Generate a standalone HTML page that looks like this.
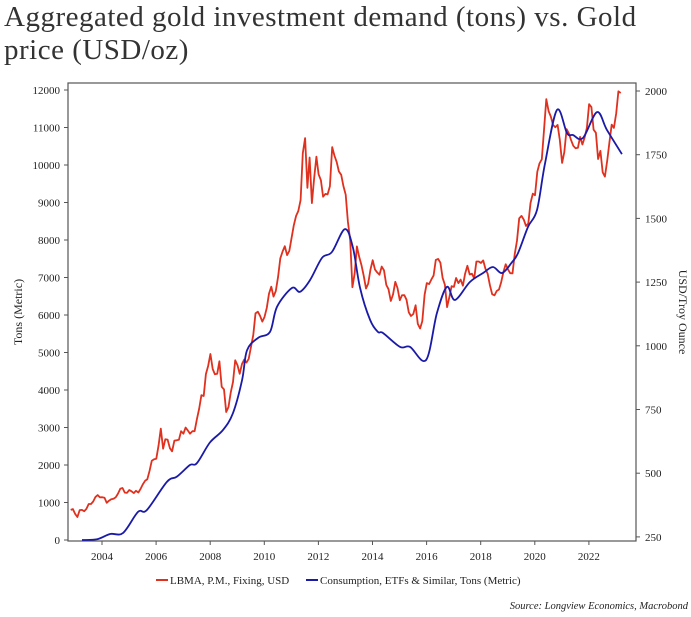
<!DOCTYPE html>
<html><head><meta charset="utf-8"><style>
html,body{margin:0;padding:0;background:#fff;}
body{width:691px;height:617px;overflow:hidden;position:relative;font-family:"Liberation Serif",serif;}
#title{position:absolute;left:4px;top:1px;font-size:29px;line-height:33px;letter-spacing:0.5px;color:#333;margin:0;font-weight:normal;white-space:nowrap;}
svg{position:absolute;left:0;top:0;}
</style></head><body>
<h1 id="title">Aggregated gold investment demand (tons) vs. Gold<br>price (USD/oz)</h1>
<svg id="chart" width="691" height="617"></svg>
<script>
const redStartYear = 2002.8;
const goldPrice = [
356,359,340,328,355,356,351,360,379,379,389,407,
414,405,406,404,384,392,398,400,406,420,439,442,
424,423,434,429,422,431,424,438,456,470,476,510,
549,555,557,610,675,596,633,632,598,586,628,629,
631,665,655,679,667,655,665,665,712,754,806,803,
889,922,968,909,888,890,939,839,829,740,760,816,
858,943,924,890,929,946,934,949,996,1043,1127,1134,
1118,1095,1113,1149,1205,1232,1193,1215,1271,1343,1370,1391,
1356,1372,1424,1473,1510,1529,1572,1756,1815,1620,1739,1560,
1656,1742,1673,1650,1585,1596,1594,1626,1780,1747,1721,1684,
1671,1627,1593,1487,1414,1230,1285,1390,1349,1316,1275,1225,
1244,1300,1336,1299,1288,1279,1311,1296,1239,1222,1176,1201,
1251,1227,1179,1198,1199,1181,1131,1117,1125,1159,1086,1068,
1097,1200,1246,1242,1260,1276,1337,1341,1326,1267,1239,1152,
1192,1234,1231,1266,1246,1260,1236,1283,1314,1280,1283,1265,
1331,1331,1325,1335,1303,1282,1238,1202,1198,1215,1221,1250,
1291,1320,1300,1285,1284,1359,1413,1500,1510,1495,1470,1480,
1560,1597,1591,1683,1716,1732,1846,1968,1921,1900,1866,1858,
1867,1808,1718,1760,1850,1834,1807,1785,1775,1777,1820,1790,
1817,1856,1948,1937,1848,1836,1733,1765,1681,1664,1726,1798,
1868,1855,1912,1999,1992];
const demandYears = [2003.26,2003.82,2004.30,2004.78,2005.33,2005.66,2006.40,2006.77,2007.25,2007.51,2007.99,2008.47,2008.84,2009.18,2009.36,2009.77,2010.21,2010.47,2011.02,2011.32,2011.69,2012.13,2012.50,2012.98,2013.28,2013.54,2013.91,2014.20,2014.39,2015.02,2015.39,2015.98,2016.38,2016.75,2017.05,2017.60,2018.09,2018.45,2018.79,2019.16,2019.38,2019.75,2020.08,2020.38,2020.82,2021.19,2021.41,2021.78,2022.30,2022.67,2023.22];
const demandTons = [0,20,160,190,750,800,1550,1690,2000,2050,2600,2930,3380,4270,5060,5390,5550,6220,6720,6620,6930,7520,7680,8290,7790,6720,5870,5550,5520,5150,5150,4800,6050,6750,6400,6880,7120,7280,7120,7410,7650,8350,8800,10050,11470,10850,10800,10720,11410,10930,10290];
const leftTicks = [0,1000,2000,3000,4000,5000,6000,7000,8000,9000,10000,11000,12000];
const rightTicks = [250,500,750,1000,1250,1500,1750,2000];
const xTicks = [2004,2006,2008,2010,2012,2014,2016,2018,2020,2022];

const PL=68, PR=636, PT=83, PB=541;
const xS = y => 102 + (y-2004)*27.05;
const yL = v => 540 - v*0.0375;
const yR = v => 91 + (2000-v)*0.2548;
const svg = document.getElementById('chart');
const NS='http://www.w3.org/2000/svg';
function mk(tag, attrs){const e=document.createElementNS(NS,tag);for(const k in attrs)e.setAttribute(k,attrs[k]);svg.appendChild(e);return e;}

const frame = mk('rect',{x:PL,y:PT,width:PR-PL,height:PB-PT,fill:'none',stroke:'#555','stroke-width':1.2});



leftTicks.forEach(v=>{
  const y=yL(v);
  const t=mk('line',{x1:PL-4,x2:PL,y1:y,y2:y,stroke:'#555'});
  
  
  const l=mk('text',{x:PL-8,y:y+4,'text-anchor':'end','font-size':11,fill:'#222','font-family':'Liberation Serif, serif'});
  l.textContent=v;
  
  
});
rightTicks.forEach(v=>{
  const y=yR(v);
  const t=mk('line',{x1:PR,x2:PR+4,y1:y,y2:y,stroke:'#555'});
  
  
  const l=mk('text',{x:PR+9,y:y+4,'font-size':11,fill:'#222','font-family':'Liberation Serif, serif'});
  l.textContent=v;
  
  
});
xTicks.forEach(v=>{
  const x=xS(v);
  const t=mk('line',{x1:x,x2:x,y1:PB,y2:PB+4,stroke:'#555'});
  
  
  const l=mk('text',{x:x,y:560,'text-anchor':'middle','font-size':11,fill:'#222','font-family':'Liberation Serif, serif'});
  l.textContent=v;
  
  
});

let d='';
goldPrice.forEach((v,i)=>{const yr=redStartYear+i/12+1/24;d+=(i?'L':'M')+xS(yr).toFixed(1)+','+yR(v).toFixed(1);});
const red=mk('path',{d:d,fill:'none',stroke:'#e0301e','stroke-width':1.8,'stroke-linejoin':'round'});



const pts=demandYears.map((yr,i)=>[xS(yr),yL(demandTons[i])]);
let bd='M'+pts[0][0].toFixed(1)+','+pts[0][1].toFixed(1);
for(let i=0;i<pts.length-1;i++){
  const p0=pts[Math.max(0,i-1)],p1=pts[i],p2=pts[i+1],p3=pts[Math.min(pts.length-1,i+2)];
  const c1=[p1[0]+(p2[0]-p0[0])/6,p1[1]+(p2[1]-p0[1])/6];
  const c2=[p2[0]-(p3[0]-p1[0])/6,p2[1]-(p3[1]-p1[1])/6];
  bd+='C'+c1.map(n=>n.toFixed(1)).join(',')+' '+c2.map(n=>n.toFixed(1)).join(',')+' '+p2.map(n=>n.toFixed(1)).join(',');
}
const blue=mk('path',{d:bd,fill:'none',stroke:'#1a1aa8','stroke-width':1.8});



const yt=mk('text',{x:0,y:0,transform:'translate(22,312) rotate(-90)','text-anchor':'middle','font-size':12,fill:'#222','font-family':'Liberation Serif, serif'});
yt.textContent='Tons (Metric)';


const yt2=mk('text',{x:0,y:0,transform:'translate(679,312) rotate(90)','text-anchor':'middle','font-size':12,fill:'#222','font-family':'Liberation Serif, serif'});
yt2.textContent='USD/Troy Ounce';



const lg1=mk('line',{x1:156,x2:168,y1:580,y2:580,stroke:'#e0301e','stroke-width':2});


const lt1=mk('text',{x:170,y:584,'font-size':11,fill:'#222','font-family':'Liberation Serif, serif'});
lt1.textContent='LBMA, P.M., Fixing, USD';


const lg2=mk('line',{x1:306,x2:318,y1:580,y2:580,stroke:'#1a1aa8','stroke-width':2});


const lt2=mk('text',{x:320,y:584,'font-size':11,fill:'#222','font-family':'Liberation Serif, serif'});
lt2.textContent='Consumption, ETFs & Similar, Tons (Metric)';



const src=mk('text',{x:688,y:609,'text-anchor':'end','font-size':10.5,'font-style':'italic',fill:'#222','font-family':'Liberation Serif, serif'});
src.textContent='Source: Longview Economics, Macrobond';


</script>
</body></html>
